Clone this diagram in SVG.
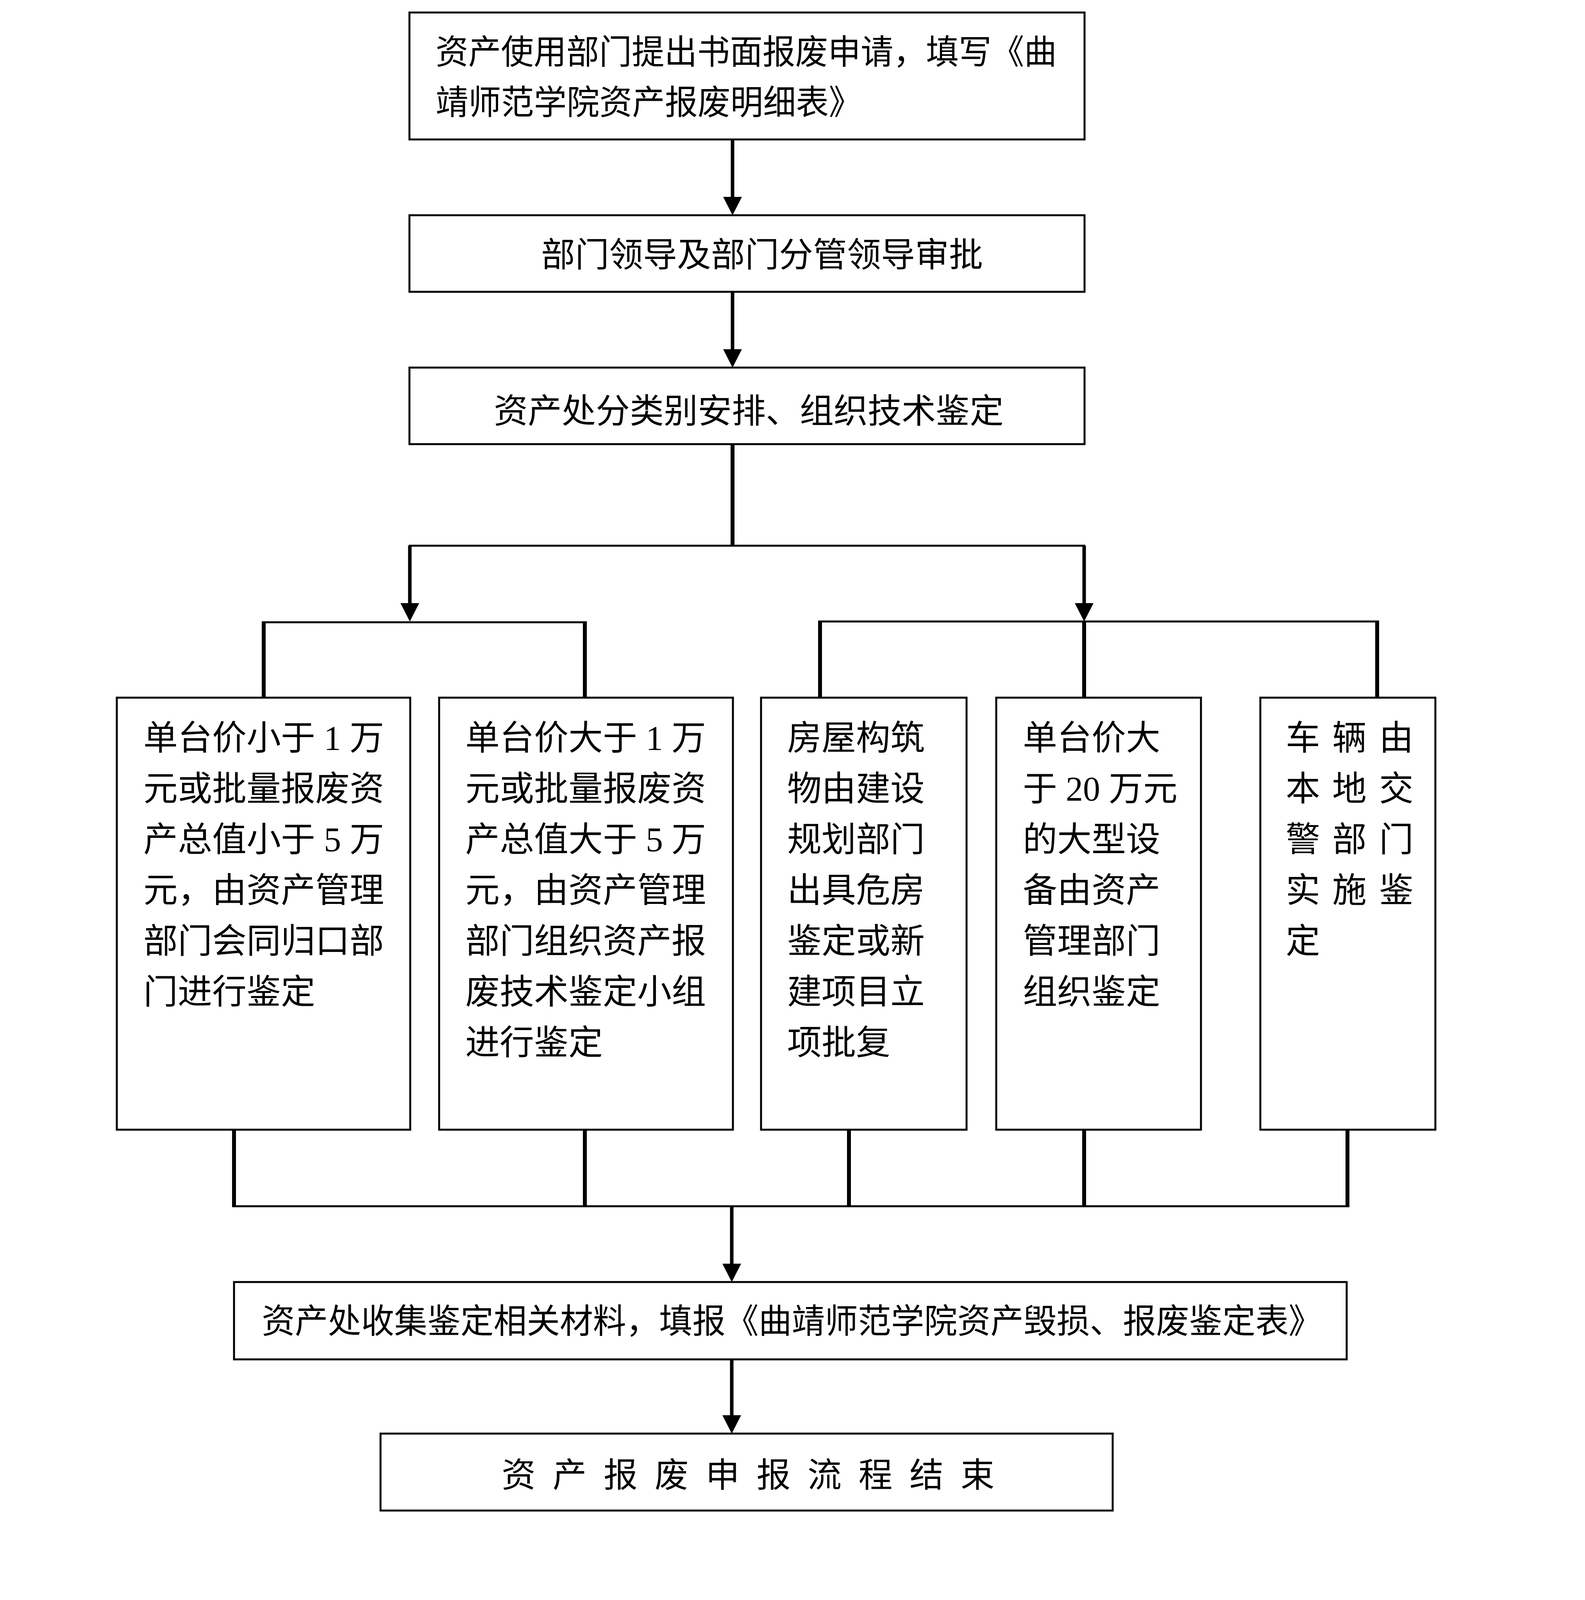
<svg xmlns="http://www.w3.org/2000/svg" width="4057" height="4934" viewBox="0 0 4057 4934">
<style>
.box{fill:#fff;stroke:#000;stroke-width:5}
.t{font-family:'Liberation Serif','Noto Sans CJK SC',serif;fill:#000}
.t87{font-size:87px}
.t88{font-size:88px}
.v{stroke:#000;stroke-width:10;fill:none}
.h{stroke:#000;stroke-width:5;fill:none}
.arr{stroke:#000;stroke-width:9;fill:none;marker-end:url(#ah)}
</style>
<defs>
<marker id="ah" markerUnits="userSpaceOnUse" markerWidth="47" markerHeight="48" viewBox="0 0 47 48" refX="7" refY="24" orient="auto">
<path d="M0,0 L47,24 L0,48 Z" fill="#000"/>
</marker>
</defs>
<rect width="4057" height="4934" fill="#fff"/>
<g id="connectors">
<line class="arr" x1="1875" y1="357" x2="1875" y2="511"/>
<line class="arr" x1="1875" y1="747" x2="1875" y2="901"/>
<line class="v" x1="1875" y1="1137" x2="1875" y2="1399"/>
<line class="h" x1="1046" y1="1397" x2="2778" y2="1397"/>
<line class="arr" x1="1049" y1="1397" x2="1049" y2="1551"/>
<line class="arr" x1="2775" y1="1397" x2="2775" y2="1551"/>
<line class="h" x1="670" y1="1593" x2="1502" y2="1593"/>
<line class="v" x1="675" y1="1591" x2="675" y2="1786"/>
<line class="v" x1="1497" y1="1591" x2="1497" y2="1786"/>
<line class="h" x1="2094" y1="1591" x2="3530" y2="1591"/>
<line class="v" x1="2099" y1="1589" x2="2099" y2="1786"/>
<line class="v" x1="2775" y1="1589" x2="2775" y2="1786"/>
<line class="v" x1="3525" y1="1589" x2="3525" y2="1786"/>
<line class="v" x1="599" y1="2892" x2="599" y2="3090"/>
<line class="v" x1="1497" y1="2892" x2="1497" y2="3090"/>
<line class="v" x1="2173" y1="2892" x2="2173" y2="3090"/>
<line class="v" x1="2775" y1="2892" x2="2775" y2="3090"/>
<line class="v" x1="3449" y1="2892" x2="3449" y2="3090"/>
<line class="h" x1="594" y1="3088" x2="3454" y2="3088"/>
<line class="arr" x1="1873" y1="3088" x2="1873" y2="3242"/>
<line class="arr" x1="1873" y1="3480" x2="1873" y2="3630"/>
</g>
<g id="n1">
<rect class="box" x="1048" y="32" width="1728" height="325"/>
<text class="t t87" x="1115" y="164" textLength="1590" lengthAdjust="spacingAndGlyphs">资产使用部门提出书面报废申请，填写《曲</text>
<text class="t t87" x="1115" y="293" textLength="1090" lengthAdjust="spacingAndGlyphs">靖师范学院资产报废明细表》</text>
</g>
<g id="n2">
<rect class="box" x="1048" y="551" width="1728" height="196"/>
<text class="t t87" x="1385" y="683">部门领导及部门分管领导审批</text>
</g>
<g id="n3">
<rect class="box" x="1048" y="941" width="1728" height="196"/>
<text class="t t87" x="1264" y="1083">资产处分类别安排、组织技术鉴定</text>
</g>
<g id="nA">
<rect class="box" x="299" y="1786" width="751" height="1106"/>
<text class="t t88" x="367" y="1919">单台价小于 1 万</text>
<text class="t t88" x="367" y="2049">元或批量报废资</text>
<text class="t t88" x="367" y="2179">产总值小于 5 万</text>
<text class="t t88" x="367" y="2309">元，由资产管理</text>
<text class="t t88" x="367" y="2439">部门会同归口部</text>
<text class="t t88" x="367" y="2569">门进行鉴定</text>
</g>
<g id="nB">
<rect class="box" x="1124" y="1786" width="752" height="1106"/>
<text class="t t88" x="1191" y="1919">单台价大于 1 万</text>
<text class="t t88" x="1191" y="2049">元或批量报废资</text>
<text class="t t88" x="1191" y="2179">产总值大于 5 万</text>
<text class="t t88" x="1191" y="2309">元，由资产管理</text>
<text class="t t88" x="1191" y="2439">部门组织资产报</text>
<text class="t t88" x="1191" y="2569">废技术鉴定小组</text>
<text class="t t88" x="1191" y="2699">进行鉴定</text>
</g>
<g id="nC">
<rect class="box" x="1948" y="1786" width="526" height="1106"/>
<text class="t t88" x="2015" y="1919">房屋构筑</text>
<text class="t t88" x="2015" y="2049">物由建设</text>
<text class="t t88" x="2015" y="2179">规划部门</text>
<text class="t t88" x="2015" y="2309">出具危房</text>
<text class="t t88" x="2015" y="2439">鉴定或新</text>
<text class="t t88" x="2015" y="2569">建项目立</text>
<text class="t t88" x="2015" y="2699">项批复</text>
</g>
<g id="nD">
<rect class="box" x="2550" y="1786" width="524" height="1106"/>
<text class="t t88" x="2618" y="1919">单台价大</text>
<text class="t t88" x="2618" y="2049">于 20 万元</text>
<text class="t t88" x="2618" y="2179">的大型设</text>
<text class="t t88" x="2618" y="2309">备由资产</text>
<text class="t t88" x="2618" y="2439">管理部门</text>
<text class="t t88" x="2618" y="2569">组织鉴定</text>
</g>
<g id="nE">
<rect class="box" x="3226" y="1786" width="448" height="1106"/>
<text class="t t88" x="3291 3410 3530" y="1919">车辆由</text>
<text class="t t88" x="3291 3410 3530" y="2049">本地交</text>
<text class="t t88" x="3291 3410 3530" y="2179">警部门</text>
<text class="t t88" x="3291 3410 3530" y="2309">实施鉴</text>
<text class="t t88" x="3291" y="2439">定</text>
</g>
<g id="n6">
<rect class="box" x="599" y="3282" width="2848" height="198"/>
<text class="t t87" x="670" y="3413" textLength="2713" lengthAdjust="spacingAndGlyphs">资产处收集鉴定相关材料，填报《曲靖师范学院资产毁损、报废鉴定表》</text>
</g>
<g id="n7">
<rect class="box" x="974" y="3670" width="1874" height="197"/>
<text class="t t87" x="1284 1414.5 1545 1675.5 1806 1936.5 2067 2197.5 2328 2458.5" y="3807">资产报废申报流程结束</text>
</g>
</svg>
